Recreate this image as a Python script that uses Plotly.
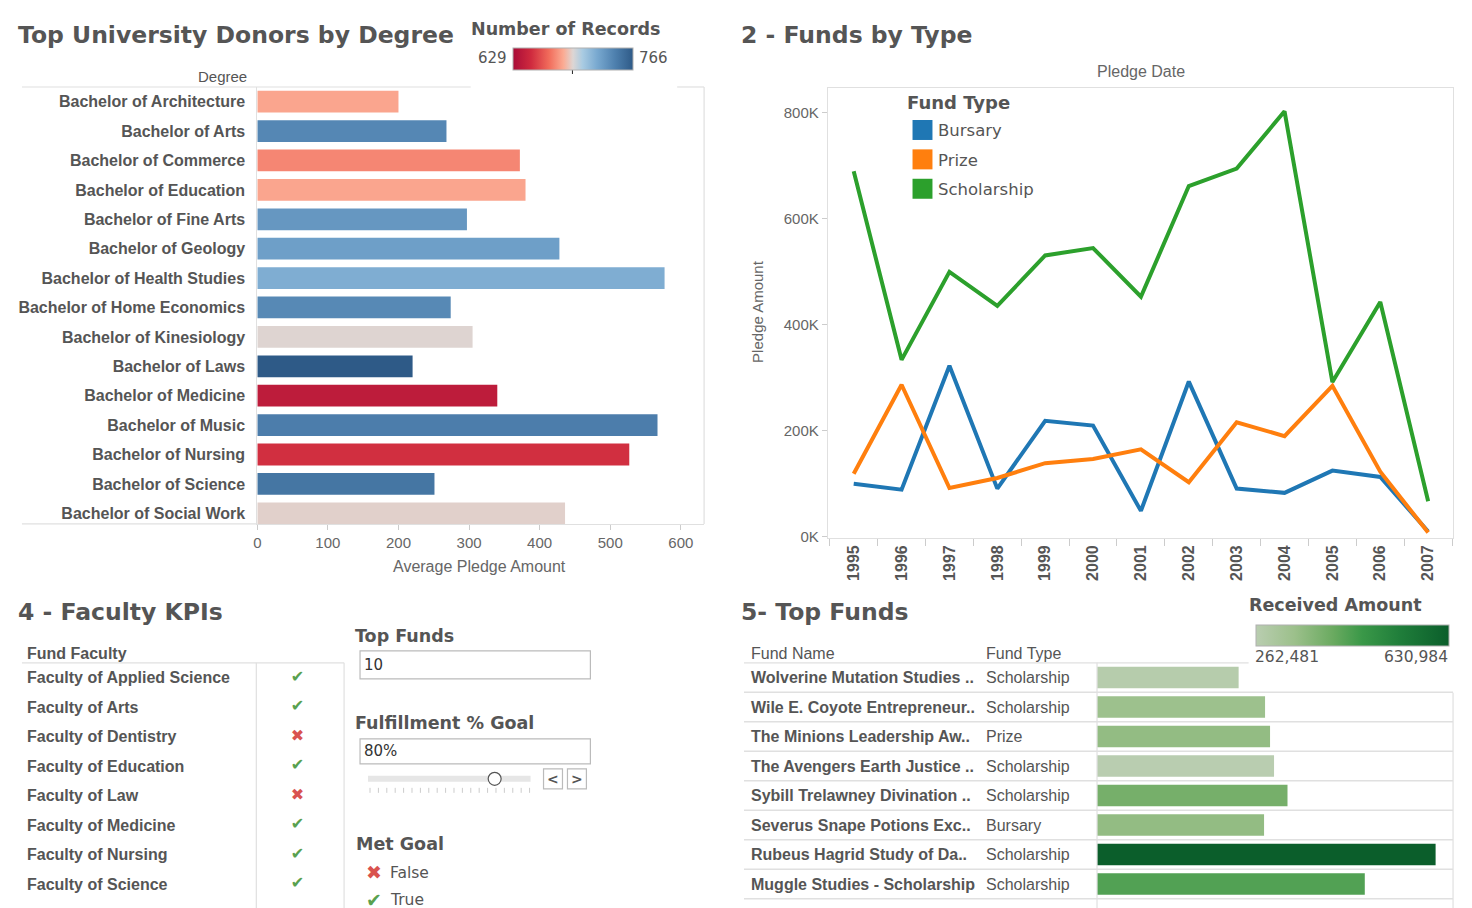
import plotly.graph_objects as go

W, H = 1472, 908
# small vertical calibration of the rendered page (layout px -> photographed px)
SY = 0.9925
def px(x): return x / W
def py(y): return 1 - (y / SY) / H

# ---------------- data ----------------
degrees = ["Bachelor of Architecture", "Bachelor of Arts", "Bachelor of Commerce",
           "Bachelor of Education", "Bachelor of Fine Arts", "Bachelor of Geology",
           "Bachelor of Health Studies", "Bachelor of Home Economics", "Bachelor of Kinesiology",
           "Bachelor of Laws", "Bachelor of Medicine", "Bachelor of Music",
           "Bachelor of Nursing", "Bachelor of Science", "Bachelor of Social Work"]
avg_pledge = [200, 268, 372, 380, 297, 428, 577, 274, 305, 220, 340, 567, 527, 251, 436]
records = [685, 742, 677, 685, 734, 730, 723, 741, 697, 766, 640, 747, 651, 751, 696]
records_min, records_max = 629, 766
degree_ticks = [0, 100, 200, 300, 400, 500, 600]

years = list(range(1995, 2008))
bursary = [100000, 89000, 323000, 91000, 219000, 210000, 49000, 293000, 91000, 83000, 125000, 113000, 10000]
prize = [119000, 287000, 92000, 111000, 139000, 147000, 165000, 103000, 216000, 190000, 285000, 123000, 8000]
scholarship = [690000, 334000, 500000, 436000, 531000, 545000, 453000, 662000, 695000, 803000, 292000, 443000, 67000]
fund_types = ["Bursary", "Prize", "Scholarship"]
fund_colors = ["#1f77b4", "#ff7f0e", "#2ca02c"]
pledge_ticks = [0, 200000, 400000, 600000, 800000]
pledge_ticktext = ["0K", "200K", "400K", "600K", "800K"]

faculties = ["Faculty of Applied Science", "Faculty of Arts", "Faculty of Dentistry",
             "Faculty of Education", "Faculty of Law", "Faculty of Medicine",
             "Faculty of Nursing", "Faculty of Science", "Faculty of Social Work"]
met_goal = [True, True, False, True, False, True, True, True, False]

fund_names = ["Wolverine Mutation Studies ..", "Wile E. Coyote Entrepreneur..",
              "The Minions Leadership Aw..", "The Avengers Earth Justice ..",
              "Sybill Trelawney Divination ..", "Severus Snape Potions Exc..",
              "Rubeus Hagrid Study of Da..", "Muggle Studies - Scholarship", ""]
fund_type_col = ["Scholarship", "Scholarship", "Prize", "Scholarship", "Scholarship",
                 "Bursary", "Scholarship", "Scholarship", ""]
fund_pledge = [284000, 337000, 347000, 355000, 382000, 335000, 679000, 537000, 317000]
fund_received = [270000, 332500, 349500, 262481, 392200, 350000, 630984, 437500, 306700]
received_min, received_max = 262481, 630984

# ---------------- styles ----------------
TXT = "#555555"
TCK = "#666666"
GRID = "#e0e0e0"
ARIAL = "Liberation Sans, Arial, sans-serif"
DJV = "DejaVu Sans, sans-serif"

rb_scale = [[0, "#a90c38"], [0.15, "#cf2a3e"], [0.3, "#f16c5b"], [0.42, "#fbab93"],
            [0.5, "#ddd6d4"], [0.58, "#a9cbe2"], [0.7, "#79a9d0"], [0.85, "#4e80ae"],
            [1, "#2e5a87"]]
green_scale = [[0, "#b9cdb0"], [0.2, "#9cc08b"], [0.4, "#6aaa60"], [0.55, "#3a9848"],
               [0.75, "#1f7d3a"], [1, "#0b5e2b"]]

fig = go.Figure()

fig.add_trace(go.Bar(
    x=avg_pledge, y=degrees, orientation="h", width=0.74, xaxis="x", yaxis="y",
    marker=dict(color=records, colorscale=rb_scale, cmin=records_min, cmax=records_max,
                line=dict(width=0), showscale=True,
                colorbar=dict(orientation="h", x=px(510), xanchor="left", y=py(48), yanchor="top",
                              len=120, lenmode="pixels", thickness=22, thicknessmode="pixels",
                              showticklabels=False, ticks="", outlinewidth=1, outlinecolor="#b0b0b0",
                              xpad=0, ypad=0)),
    hoverinfo="x+y"))

for name, vals, col in zip(fund_types, [bursary, prize, scholarship], fund_colors):
    fig.add_trace(go.Scatter(x=years, y=vals, mode="lines", name=name, xaxis="x2", yaxis="y2",
                             line=dict(color=col, width=4)))

rows_f = list(range(len(fund_pledge)))
fig.add_trace(go.Bar(
    x=fund_pledge, y=rows_f, orientation="h", width=0.73, xaxis="x3", yaxis="y3",
    marker=dict(color=fund_received, colorscale=green_scale, cmin=received_min, cmax=received_max,
                line=dict(width=0), showscale=True,
                colorbar=dict(orientation="h", x=px(1255), xanchor="left", y=py(625), yanchor="top",
                              len=193, lenmode="pixels", thickness=21, thicknessmode="pixels",
                              showticklabels=False, ticks="", outlinewidth=1, outlinecolor="#b0b0b0",
                              xpad=0, ypad=0))))

rows_k = list(range(len(faculties)))
fig.add_trace(go.Scatter(
    x=[0.47] * len(faculties), y=rows_k, mode="text", xaxis="x4", yaxis="y4",
    text=["✔" if m else "✖" for m in met_goal],
    textfont=dict(size=16, family=DJV, color=["#59a14f" if m else "#d9534f" for m in met_goal])))

# table rows: 29.5 px each in the picture, starting at y=663
row_layout_px = 29.5 / SY
tbl_top_layout = 663 / SY
tbl_range = [-0.5 + (H - tbl_top_layout) / row_layout_px, -0.5]

fig.update_layout(
    width=W, height=H, margin=dict(l=0, r=0, t=0, b=0, pad=0), autosize=False,
    paper_bgcolor="white", plot_bgcolor="rgba(0,0,0,0)", showlegend=False,
    font=dict(family=ARIAL, color=TXT),
    xaxis=dict(domain=[px(254), px(702)], range=[0, 633], tickvals=degree_ticks, anchor="y",
               ticks="outside", ticklen=5, tickcolor="#cccccc", showgrid=False, zeroline=False,
               showline=True, linecolor=GRID, tickfont=dict(family=ARIAL, size=15, color=TCK)),
    yaxis=dict(domain=[py(524), py(87)], range=[14.36, -0.5], type="category", anchor="x",
               showgrid=False, ticks="", showline=True, linecolor=GRID, ticklabelstandoff=8,
               tickfont=dict(family=ARIAL, size=16, color=TXT, weight="bold")),
    xaxis2=dict(domain=[px(826), px(1453)], range=[1994.458, 2007.52], tickvals=years, anchor="y2",
                ticktext=[str(y) for y in years], tickangle=-90, ticks="", showgrid=False,
                zeroline=False, showline=True, mirror=True, linecolor=GRID,
                tickfont=dict(family=ARIAL, size=16, color=TXT, weight="bold"),
                minor=dict(tickvals=[y - 0.5 for y in years] + [years[-1] + 0.5],
                           ticks="outside", ticklen=7, tickcolor="#cccccc", showgrid=False)),
    yaxis2=dict(domain=[py(538), py(88)], range=[-2000, 847000], tickvals=pledge_ticks, anchor="x2",
                ticktext=pledge_ticktext, ticks="outside", ticklen=5, tickcolor="#cccccc",
                showgrid=False, zeroline=False, showline=True, mirror=True, linecolor=GRID,
                tickfont=dict(family=ARIAL, size=15, color=TCK)),
    xaxis3=dict(domain=[px(1096), px(1453)], range=[0, 714000], visible=False, anchor="y3"),
    yaxis3=dict(domain=[0, py(663)], range=tbl_range, visible=False, anchor="x3"),
    xaxis4=dict(domain=[px(253), px(341)], range=[0, 1], visible=False, anchor="y4"),
    yaxis4=dict(domain=[0, py(663)], range=tbl_range, visible=False, anchor="x4"),
)

ann = []
def A(x, y, text, size=15, family=ARIAL, color=TXT, bold=False, xanchor="left", yanchor="middle",
      xref="paper", yref="paper", angle=0):
    ann.append(dict(x=px(x) if xref == "paper" else x, y=py(y) if yref == "paper" else y,
                    xref=xref, yref=yref, text=text, showarrow=False, xanchor=xanchor,
                    yanchor=yanchor, textangle=angle, borderpad=0,
                    font=dict(size=size, family=family, color=color,
                              weight="bold" if bold else "normal")))

A(13, 35, "Top University Donors by Degree", 23.5, DJV, bold=True)
A(738, 35, "2 - Funds by Type", 23.5, DJV, bold=True)
A(13, 612, "4 - Faculty KPIs", 23.5, DJV, bold=True)
A(738, 612, "5- Top Funds", 23.5, DJV, bold=True)

A(564, 29, "Number of Records", 17.5, DJV, bold=True, xanchor="center")
A(505, 58, str(records_min), 15, DJV, xanchor="right")
A(636, 58, str(records_max), 15, DJV)
A(245, 77, "Degree", 15, xanchor="right")
A(477, 567, "Average Pledge Amount", 16, xanchor="center", color=TCK)

A(1140, 72, "Pledge Date", 16, xanchor="center", color=TCK)
A(756, 311, "Pledge Amount", 15, xanchor="center", color=TCK, angle=-90)
A(904, 103, "Fund Type", 18, DJV, bold=True)
for i, name in enumerate(fund_types):
    A(936, 131 + i * 29.4, name, 16.5, DJV)

A(22, 654, "Fund Faculty", 16, bold=True)
for i, f in enumerate(faculties):
    A(22, i, f, 16, bold=True, yref="y4")

A(351, 636, "Top Funds", 17.5, DJV, bold=True)
A(360, 665, "10", 15, DJV, color="#333333")
A(351, 723, "Fulfillment % Goal", 17.5, DJV, bold=True)
A(360, 751, "80%", 15, DJV, color="#333333")
A(550.5, 779, "<", 14, DJV, bold=True, xanchor="center")
A(574.5, 779, ">", 14, DJV, bold=True, xanchor="center")
A(352, 844, "Met Goal", 17.5, DJV, bold=True)
A(371, 872, "✖", 19, DJV, color="#d9534f", xanchor="center")
A(386, 873, "False", 15.5, DJV)
A(371, 900, "✔", 19, DJV, color="#59a14f", xanchor="center")
A(386, 900, "True", 15.5, DJV)

A(1335, 605, "Received Amount", 17.5, DJV, bold=True, xanchor="center")
A(1253, 657, f"{received_min:,}", 15.5, DJV)
A(1449, 657, f"{received_max:,}", 15.5, DJV, xanchor="right")
A(748, 654, "Fund Name", 16)
A(984, 654, "Fund Type", 16)
for i, (n, t) in enumerate(zip(fund_names, fund_type_col)):
    if n:
        A(748, i, n, 16, bold=True, yref="y3")
    if t:
        A(984, i, t, 16, yref="y3")

fig.update_layout(annotations=ann)

shapes = []
def L(x0, y0, x1, y1, color=GRID, w=1.2, xref="paper", yref="paper"):
    shapes.append(dict(type="line", xref=xref, yref=yref,
                       x0=px(x0) if xref == "paper" else x0, x1=px(x1) if xref == "paper" else x1,
                       y0=py(y0) if yref == "paper" else y0, y1=py(y1) if yref == "paper" else y1,
                       line=dict(color=color, width=w)))
def R(x0, y0, x1, y1, fill="white", line="#bbbbbb", w=1.2, rtype="rect"):
    shapes.append(dict(type=rtype, xref="paper", yref="paper", x0=px(x0), x1=px(x1),
                       y0=py(y0), y1=py(y1), fillcolor=fill, line=dict(color=line, width=w)))

# panel 1 borders
L(18, 87, 468, 87)
L(675, 87, 702, 87)
L(702, 87, 702, 524)
L(18, 524, 254, 524)
L(570, 66, 570, 74, color="#222222", w=1)

# panel 4 lines
L(18, 663, 341, 663)
L(253, 663, 253, 915)
L(341, 663, 341, 915)

# controls
R(357, 651, 588, 679)
R(357, 739, 588, 764)
R(365, 776, 528, 782, fill="#e6e6e6", line="#e6e6e6", w=0)
for k in range(20):
    xx = 367 + k * (527 - 367) / 19
    L(xx, 788, xx, 793, color="#cccccc", w=1)
R(485.5, 772.5, 498.5, 785.5, fill="white", line="#555555", w=1.2, rtype="circle")
R(541, 769, 560, 789)
R(565, 769, 584, 789)

# legend swatches for panel 2
for i, col in enumerate(fund_colors):
    R(911, 120 + i * 29.4, 931, 140 + i * 29.4, fill=col, line=col, w=0)

# panel 5 lines
L(742, 663, 1248, 663)
for i in range(len(fund_pledge) - 1):
    shapes.append(dict(type="line", xref="paper", yref="y3", x0=px(742), x1=px(1453),
                       y0=i + 0.5, y1=i + 0.5, line=dict(color=GRID, width=1.5)))
L(1096, 663, 1096, 915)
L(1453, 693, 1453, 915)

fig.update_layout(shapes=shapes)
fig.write_html("out.html")
